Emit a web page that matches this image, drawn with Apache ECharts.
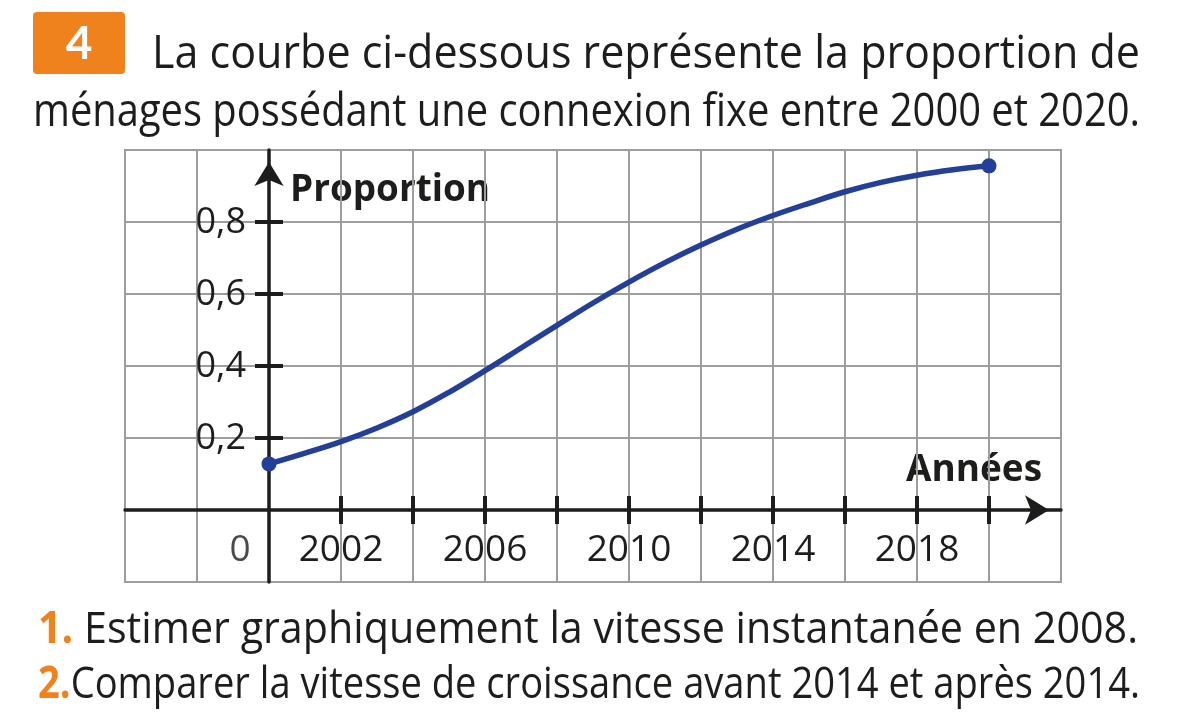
<!DOCTYPE html>
<html>
<head>
<meta charset="utf-8">
<script src="https://cdn.jsdelivr.net/npm/echarts@6/dist/echarts.min.js"></script>
<style>html,body{margin:0;padding:0;background:#fff}#c{width:1200px;height:727px}</style>
</head>
<body>
<div id="c"></div>
<script>
// ---- data ----
const years = [2000,2001,2002,2003,2004,2005,2006,2007,2008,2009,2010,2011,2012,2013,2014,2015,2016,2017,2018,2019,2020];
const proportion = [0.128,0.158,0.190,0.228,0.273,0.327,0.387,0.450,0.513,0.575,0.633,0.687,0.736,0.780,0.818,0.852,0.884,0.910,0.930,0.945,0.956];
const xTickYears = [2002,2004,2006,2008,2010,2012,2014,2016,2018,2020];
const xLabelYears = [2002,2006,2010,2014,2018];
const yTickValues = [0.2,0.4,0.6,0.8];
const yTickLabels = ['0,2','0,4','0,6','0,8'];
const originYear = 2000;
const originLabel = '0';
const xMinYear = 1996, xMaxYear = 2022;
const yMin = -0.2, yMax = 1.0;

// ---- styles ----
const FONT = '"Open Sans", "Noto Sans", sans-serif';
const INK = '#1d1d1b';
const GRIDC = '#9d9d9d';
const BLUE = '#233f98';
const ORANGE = '#f0821e';

const ctx = document.createElement('canvas').getContext('2d');
function measure(parts) {
  let w = 0;
  parts.forEach(p => { ctx.font = p.font; w += ctx.measureText(p.text).width; });
  return w;
}
function fitText(text, size, weight, left, midY, targetW, fill) {
  const w = measure([{text, font: weight + ' ' + size + 'px ' + FONT}]);
  return {
    type: 'text', x: left, y: midY, scaleX: targetW / w,
    style: {text, fontSize: size, fontFamily: FONT, fontWeight: weight, fill: fill || INK,
            align: 'left', verticalAlign: 'middle'}
  };
}
function numberedLine(num, text, size, left, midY, targetW) {
  const w = measure([
    {text: num, font: 'bold ' + size + 'px ' + FONT},
    {text: text, font: 'normal ' + size + 'px ' + FONT}
  ]);
  return {
    type: 'text', x: left, y: midY, scaleX: targetW / w,
    style: {
      text: '{n|' + num + '}{t|' + text + '}',
      fontSize: size, fontFamily: FONT, fill: INK, align: 'left', verticalAlign: 'middle',
      rich: {
        n: {fontSize: size, fontFamily: FONT, fontWeight: 'bold', fill: ORANGE},
        t: {fontSize: size, fontFamily: FONT, fontWeight: 'normal', fill: INK}
      }
    }
  };
}

const chart = echarts.init(document.getElementById('c'), null, {renderer: 'canvas'});

const lineData = years.map((y, i) => [y - originYear, proportion[i]]);
const endPoints = [lineData[0], lineData[lineData.length - 1]];

const option = {
  animation: false,
  backgroundColor: '#ffffff',
  grid: {left: 125, top: 150, width: 936, height: 432, show: true,
         borderColor: GRIDC, borderWidth: 2, backgroundColor: 'transparent'},
  xAxis: {
    type: 'value', min: xMinYear - originYear, max: xMaxYear - originYear, interval: 2,
    axisLine: {show: true, onZero: true, symbol: ['none', 'arrow'], symbolSize: [22, 24],
               symbolOffset: [0, -12], lineStyle: {color: INK, width: 3.5}},
    axisTick: {show: false},
    axisLabel: {show: false},
    splitLine: {show: true, lineStyle: {color: GRIDC, width: 2}}
  },
  yAxis: {
    type: 'value', min: yMin, max: yMax, interval: 0.2,
    axisLine: {show: true, onZero: true, symbol: ['none', 'arrow'], symbolSize: [22, 24],
               symbolOffset: [0, -12], lineStyle: {color: INK, width: 3.5}},
    axisTick: {show: false},
    axisLabel: {show: false},
    splitLine: {show: true, lineStyle: {color: GRIDC, width: 2}}
  },
  series: [
    {
      name: 'xticks', type: 'scatter', silent: true, z: 3,
      data: xTickYears.map(y => [y - originYear, 0]),
      symbol: 'rect', symbolSize: [4, 28], itemStyle: {color: INK, opacity: 1},
      label: {
        show: true, position: 'inside', offset: [0, 40],
        fontSize: 37, fontFamily: FONT, color: INK,
        formatter: function (p) {
          const yr = Math.round(p.value[0]) + originYear;
          return xLabelYears.indexOf(yr) >= 0 ? String(yr) : '';
        }
      }
    },
    {
      name: 'origin', type: 'scatter', silent: true, z: 3,
      data: [[0, 0]], symbol: 'circle', symbolSize: 1,
      itemStyle: {color: 'rgba(0,0,0,0)'},
      label: {show: true, position: 'inside', offset: [-29, 40], fontSize: 37,
              fontFamily: FONT, color: INK, formatter: originLabel}
    },
    {
      name: 'yticks', type: 'scatter', silent: true, z: 3,
      data: yTickValues.map(v => [0, v]),
      symbol: 'rect', symbolSize: [28, 4], itemStyle: {color: INK, opacity: 1},
      label: {
        show: true, position: 'left', distance: 9, offset: [0, 1],
        fontSize: 36, fontFamily: FONT, color: INK,
        formatter: function (p) { return yTickLabels[p.dataIndex]; }
      }
    },
    {
      name: 'Proportion', type: 'line', data: lineData, smooth: 0.4,
      showSymbol: false, z: 4,
      lineStyle: {color: BLUE, width: 5.5}
    },
    {
      name: 'ends', type: 'scatter', data: endPoints, symbol: 'circle', symbolSize: 15, z: 5,
      itemStyle: {color: BLUE, opacity: 1}, silent: true
    }
  ],
  graphic: [
    {type: 'rect', shape: {x: 33, y: 12, width: 92, height: 62, r: 4}, style: {fill: ORANGE}},
    {type: 'text', x: 79, y: 44, style: {text: '4', fontSize: 46, fontFamily: '"Lato", ' + FONT,
      fontWeight: 'bold', fill: '#ffffff', align: 'center', verticalAlign: 'middle'}},
    fitText('La courbe ci-dessous représente la proportion de', 46, 'normal', 152, 55, 988),
    fitText('ménages possédant une connexion fixe entre 2000 et 2020.', 46, 'normal', 33, 113, 1107),
    fitText('Proportion', 37, 'bold', 290, 190, 200),
    fitText('Années', 37, 'bold', 906, 470, 136),
    numberedLine('1.', ' Estimer graphiquement la vitesse instantanée en 2008.', 44, 38, 630, 1100),
    numberedLine('2.', 'Comparer la vitesse de croissance avant 2014 et après 2014.', 44, 38, 685, 1102)
  ]
};
chart.setOption(option);
</script>
</body>
</html>
